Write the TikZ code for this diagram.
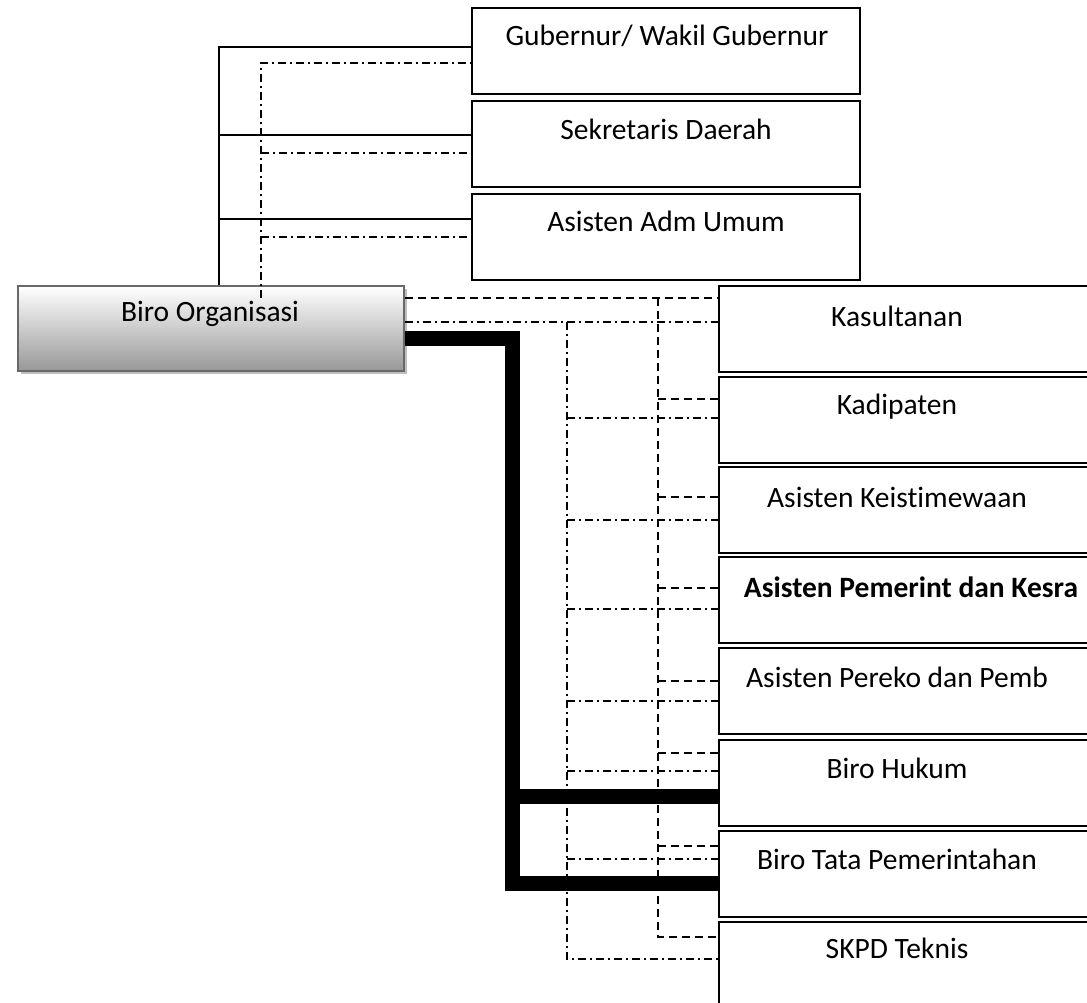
\documentclass[tikz,border=0pt]{standalone}
\usepackage{fontspec}
\setmainfont{Carlito}[Ligatures=NoCommon]
\usetikzlibrary{shadows}
\definecolor{bobot}{RGB}{152,152,152}
\definecolor{boedge}{RGB}{105,105,105}
\definecolor{shad}{RGB}{190,190,190}
\begin{document}
\begin{tikzpicture}[x=1pt,y=-1pt,
  box/.style={draw=black, line width=2pt, fill=white, minimum height=86pt, anchor=north west, inner sep=0pt},
  topbox/.style={box, minimum width=388pt},
  rbox/.style={box, minimum width=400pt},
  bobox/.style={draw=boedge, line width=2pt, top color=white, bottom color=bobot,
    minimum width=386pt, minimum height=85pt, anchor=north west, inner sep=0pt,
    drop shadow={shadow xshift=3pt, shadow yshift=-3pt, fill=shad, opacity=1}},
  lbl/.style={font=\fontsize{29.5}{34}\selectfont, inner sep=0pt},
  solidc/.style={line width=1.5pt},
  dashc/.style={line width=1.5pt, dash pattern=on 8pt off 5pt},
  dotc/.style={line width=1.5pt, dash pattern=on 8pt off 4pt on 2pt off 4pt},
  heavy/.style={line width=15pt, line join=miter}
]
\useasboundingbox (0,0) rectangle (1087,1003);
\clip (0,0) rectangle (1087,1003);

% top boxes
\node[topbox] (gub) at (471,7) {};
\node[lbl] (tgub) at (667,36) {Gubernur/ Wakil Gubernur};
\node[topbox] (sek) at (471,100) {};
\node[lbl] (tsek) at (666,129) {Sekretaris Daerah};
\node[topbox] (asu) at (471,193) {};
\node[lbl] (tasu) at (666,221) {Asisten Adm Umum};

% Biro Organisasi
\node[bobox] (bo) at (17,285) {};
\node[lbl] (tbo) at (210,314) {Biro Organisasi};

% right boxes
\node[rbox] (kas) at (718,285) {};
\node[lbl] (tkas) at (897,316) {Kasultanan};
\node[rbox] (kad) at (718,376) {};
\node[lbl] (tkad) at (897,407) {Kadipaten};
\node[rbox] (kei) at (718,466) {};
\node[lbl] (tkei) at (897,497) {Asisten Keistimewaan};
\node[rbox] (pem) at (718,556) {};
\node[lbl, font=\fontsize{29.5}{34}\selectfont\bfseries] (tpem) at (911,587) {Asisten Pemerint dan Kesra};
\node[rbox] (per) at (718,647) {};
\node[lbl] (tper) at (897,677) {Asisten Pereko dan Pemb};
\node[rbox] (huk) at (718,739) {};
\node[lbl] (thuk) at (897,768) {Biro Hukum};
\node[rbox] (tat) at (718,830) {};
\node[lbl] (ttat) at (897,859) {Biro Tata Pemerintahan};
\node[rbox] (skpd) at (718,921) {};
\node[lbl] (tskpd) at (897,948) {SKPD Teknis};

% top-left connectors
\draw[solidc] (bo.north -| 219,0) -- (219,47) -- (gub.west |- 0,47);
\draw[solidc] (219,135) -- (sek.west |- 0,135);
\draw[solidc] (219,219) -- (asu.west |- 0,219);
\draw[dotc] (261,298) -- (261,63) -- (gub.west |- 0,63);
\draw[dotc] (261,153) -- (sek.west |- 0,153);
\draw[dotc] (261,237) -- (asu.west |- 0,237);

% dashed connectors
\draw[dashc] (bo.east |- 0,298) -- (kas.west |- 0,298);
\draw[dashc] (658,298) -- (658,937) -- (skpd.west |- 0,937);
\foreach \n/\y in {kad/399, kei/497, pem/588, per/681, huk/753, tat/846}
  \draw[dashc] (658,\y) -- (\n.west |- 0,\y);

% dash-dot connectors
\draw[dotc] (bo.east |- 0,322) -- (kas.west |- 0,322);
\draw[dotc] (567,322) -- (567,959) -- (skpd.west |- 0,959);
\foreach \n/\y in {kad/418, kei/520, pem/609, per/701, huk/771, tat/859}
  \draw[dotc] (567,\y) -- (\n.west |- 0,\y);

% heavy connectors
\draw[heavy] (bo.east |- 0,338) -- (512,338) -- (512,883) -- (tat.west |- 0,883);
\draw[heavy] (512,796) -- (huk.west |- 0,796);
\end{tikzpicture}
\end{document}
